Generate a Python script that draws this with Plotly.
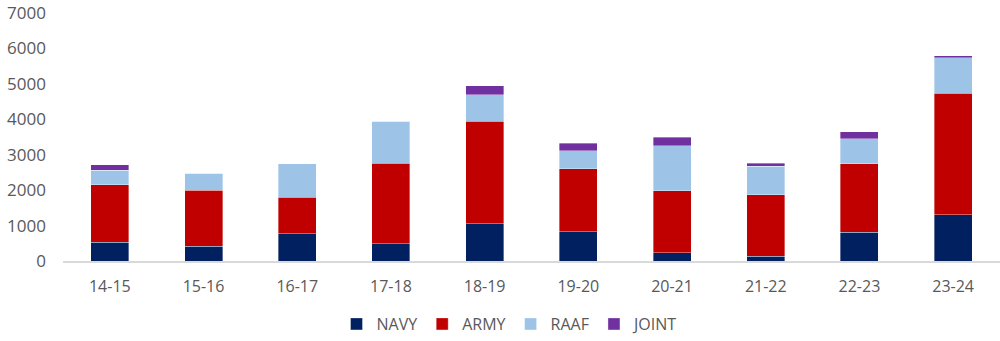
import plotly.graph_objects as go

years = ["14-15", "15-16", "16-17", "17-18", "18-19", "19-20", "20-21", "21-22", "22-23", "23-24"]
navy = [530, 420, 770, 490, 1050, 830, 240, 130, 815, 1310]
army = [1620, 1580, 1030, 2270, 2900, 1780, 1750, 1740, 1930, 3430]
raaf = [410, 470, 950, 1180, 740, 500, 1270, 800, 710, 1000]
joint = [160, 0, 0, 0, 250, 210, 230, 90, 200, 50]

series = [
    ("NAVY", navy, "#002060"),
    ("ARMY", army, "#C00000"),
    ("RAAF", raaf, "#9DC3E6"),
    ("JOINT", joint, "#7030A0"),
]

fig = go.Figure()
for name, vals, color in series:
    fig.add_trace(go.Bar(
        x=years, y=vals, name=name,
        marker=dict(color=color, line=dict(color="rgba(255,255,255,0.6)", width=0.6)),
    ))

font_family = "Open Sans, Liberation Sans, sans-serif"
fig.update_layout(
    barmode="stack",
    bargap=0.595,
    width=1000, height=341,
    margin=dict(l=63, r=0, t=13, b=80),
    paper_bgcolor="white",
    plot_bgcolor="white",
    font=dict(family=font_family, size=16, color="#595959"),
    showlegend=True,
    legend=dict(
        orientation="h", xref="container", yref="container",
        x=0.51, xanchor="center", y=0.0, yanchor="bottom",
        font=dict(size=16, color="#595959"),
        itemwidth=30, traceorder="normal",
    ),
    xaxis=dict(
        showgrid=False, showline=True, linecolor="#d9d9d9", linewidth=1.5,
        ticks="", ticklabelstandoff=10,
        tickfont=dict(size=16, color="#595959"),
    ),
    yaxis=dict(
        range=[0, 7000], dtick=1000, showgrid=False, zeroline=False,
        showline=False, ticks="", ticklabelstandoff=16,
        tickfont=dict(size=17, color="#595959"),
    ),
)

fig.write_html("out.html")
